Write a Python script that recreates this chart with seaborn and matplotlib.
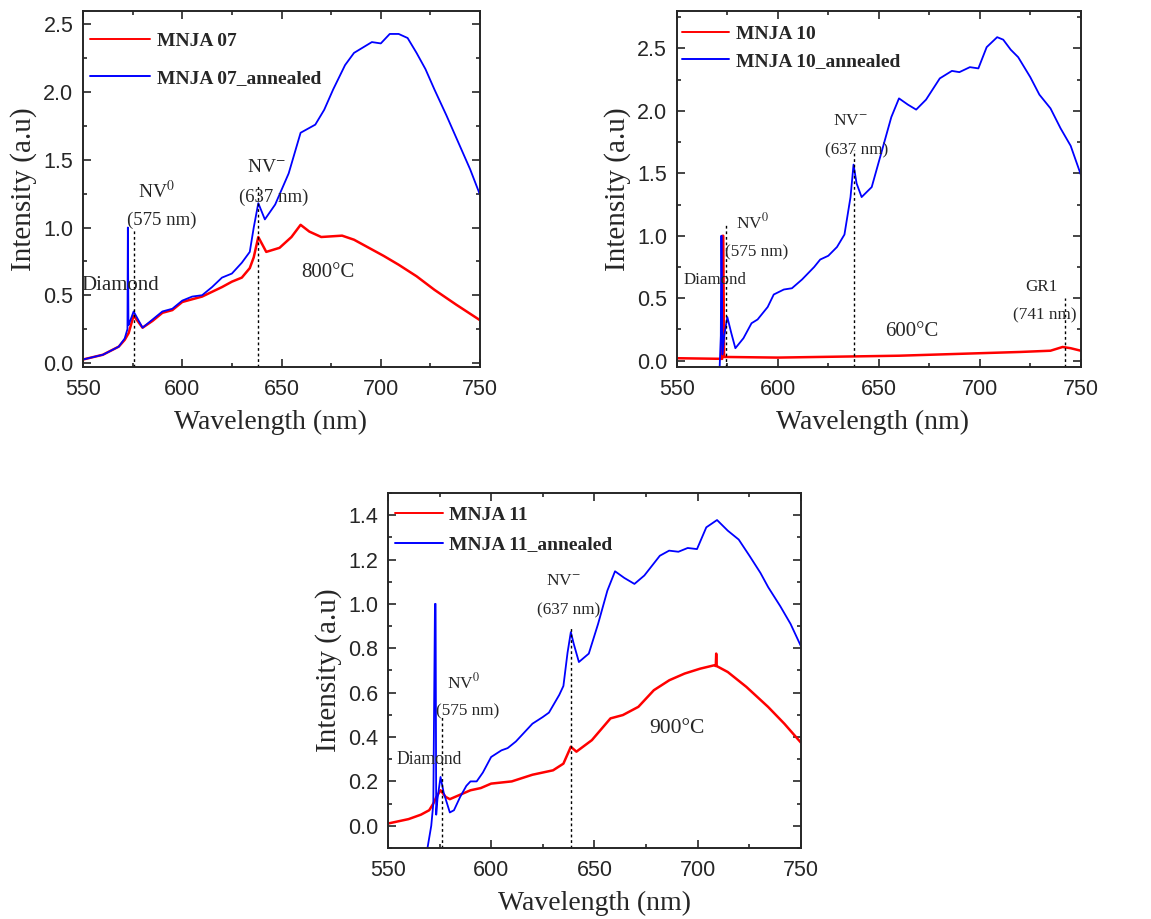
import numpy as np
import pandas as pd
import matplotlib
matplotlib.use("Agg")
import matplotlib.pyplot as plt
from matplotlib.ticker import MultipleLocator
import seaborn as sns

# ==========================================
# Data (wavelength nm, intensity a.u.)
# ==========================================
wl_07 = [550, 560, 568, 571, 573, 575.5, 580, 585, 590, 595, 600, 610, 620, 625, 630, 634, 636, 638.3,
         642.3, 649, 655, 659.6, 664, 670, 680.5, 686.5, 694, 701.5, 709, 718, 727, 738, 750]
int_07 = [0.025, 0.06, 0.12, 0.17, 0.22, 0.35, 0.26, 0.31, 0.37, 0.39, 0.45, 0.49, 0.56, 0.60, 0.63, 0.70, 0.78, 0.93,
          0.82, 0.85, 0.93, 1.02, 0.97, 0.93, 0.94, 0.91, 0.85, 0.79, 0.725, 0.64, 0.54, 0.43, 0.315]

wl_07a = [550, 560, 568, 571, 572.4, 572.6, 572.9, 573.5, 575.5, 580, 585, 590, 595, 600, 605, 610, 615, 620, 625,
          630, 634, 636, 638.3, 641.6, 646.8, 653.6, 659.6, 667, 671.5, 676, 682, 686.5, 691, 695.5, 700, 704.5,
          709, 713.5, 718, 722.5, 727, 733, 739, 745, 750]
int_07a = [0.025, 0.06, 0.12, 0.18, 0.25, 1.0, 0.28, 0.30, 0.38, 0.26, 0.32, 0.38, 0.40, 0.46, 0.49, 0.50, 0.56, 0.63, 0.66,
           0.74, 0.82, 1.00, 1.18, 1.06, 1.17, 1.40, 1.70, 1.76, 1.87, 2.02, 2.20, 2.29, 2.33, 2.37, 2.36, 2.43,
           2.43, 2.40, 2.29, 2.17, 2.02, 1.83, 1.63, 1.43, 1.24]

wl_10 = [550, 572.5, 572.7, 573.0, 573.4, 574, 600, 620, 640, 660, 680, 700, 720, 735, 741, 745, 750]
int_10 = [0.02, 0.015, 1.0, 1.0, 0.03, 0.03, 0.025, 0.03, 0.035, 0.04, 0.05, 0.06, 0.07, 0.08, 0.11, 0.10, 0.08]

wl_10a = [571.2, 571.8, 572.0, 572.2, 572.6, 573.5, 575, 577, 579, 583, 587, 590, 595, 598, 603, 607, 612, 618, 621,
          625, 629.3, 633, 636, 637.5, 639, 641.5, 646.5, 651.7, 656.2, 660, 664.4, 668.5, 673.4, 680.2, 686.2,
          689.9, 695.1, 699.3, 703.4, 708.6, 711.6, 715.3, 719, 725, 729.5, 735, 740, 745, 750]
int_10a = [-0.06, 0.2, 1.0, 1.0, 0.05, 0.2, 0.35, 0.22, 0.10, 0.18, 0.30, 0.33, 0.43, 0.53, 0.57, 0.58, 0.65, 0.75, 0.81,
           0.84, 0.91, 1.01, 1.31, 1.57, 1.42, 1.31, 1.39, 1.69, 1.95, 2.10, 2.05, 2.01, 2.09, 2.26, 2.32,
           2.31, 2.35, 2.34, 2.51, 2.59, 2.57, 2.49, 2.43, 2.27, 2.13, 2.02, 1.86, 1.72, 1.49]

wl_11 = [550, 560, 566, 570, 572, 573.5, 575.5, 578, 580, 585, 590, 595, 600, 610, 620, 630, 635, 638.6, 641.3,
         648.8, 657.8, 663.8, 671.3, 678.8, 686.3, 693.7, 701.2, 707.9, 708.8, 709, 709.2, 714.6, 723.6, 734.1,
         742, 750]
int_11 = [0.01, 0.03, 0.05, 0.07, 0.10, 0.13, 0.16, 0.13, 0.12, 0.14, 0.16, 0.17, 0.19, 0.20, 0.23, 0.25, 0.28, 0.356, 0.334,
          0.386, 0.484, 0.499, 0.536, 0.611, 0.656, 0.686, 0.708, 0.723, 0.72, 0.776, 0.72, 0.693, 0.626, 0.536,
          0.46, 0.375]

wl_11a = [569, 571, 572, 572.8, 573.1, 573.4, 574, 575.5, 577, 580, 582, 585, 588, 590, 593, 596, 600, 605, 608, 612,
          616, 620, 625, 628, 633, 635, 637, 638.6, 640, 642.5, 647.3, 651.8, 656.3, 660, 664.5, 669.4, 674.2,
          681.7, 686.2, 690.7, 695.2, 699.7, 704.2, 709.4, 714.6, 719.9, 725.1, 730.4, 734.2, 740, 745, 750]
int_11a = [-0.11, 0.0, 0.1, 1.0, 1.0, 0.05, 0.12, 0.22, 0.15, 0.06, 0.07, 0.13, 0.18, 0.20, 0.20, 0.24, 0.31, 0.34, 0.35, 0.38,
           0.42, 0.46, 0.49, 0.51, 0.59, 0.63, 0.78, 0.873, 0.82, 0.738, 0.776, 0.91, 1.06, 1.147, 1.117, 1.09, 1.128,
           1.217, 1.24, 1.235, 1.252, 1.247, 1.345, 1.378, 1.33, 1.29, 1.217, 1.14, 1.075, 0.99, 0.91, 0.81]

# ==========================================
# Style
# ==========================================
sns.set_style("ticks")
plt.rcParams['font.family'] = ['Liberation Sans', 'DejaVu Sans']
plt.rcParams['mathtext.fontset'] = 'stix'
SERIF = ['Liberation Serif', 'DejaVu Serif']
RED = '#ff0000'
BLUE = '#0000ff'

fig = plt.figure(figsize=(11.51, 9.19), dpi=100)

panels = [
    dict(rect=[0.0721, 0.6007, 0.345, 0.3874], red=(wl_07, int_07), blue=(wl_07a, int_07a),
         labels=("MNJA 07", "MNJA 07_annealed"), ylim=(-0.03, 2.6), ymaj=0.5, ymin=0.25,
         spacing=1.0, hlen=3.1, anchor=(0.018, 0.94), xlab=0.471),
    dict(rect=[0.588, 0.6007, 0.351, 0.3874], red=(wl_10, int_10), blue=(wl_10a, int_10a),
         labels=("MNJA 10", "MNJA 10_annealed"), ylim=(-0.05, 2.8), ymaj=0.5, ymin=0.25,
         spacing=0.5, hlen=2.45, anchor=(0.012, 0.96), xlab=0.485),
    dict(rect=[0.337, 0.0773, 0.3588, 0.3863], red=(wl_11, int_11), blue=(wl_11a, int_11a),
         labels=("MNJA 11", "MNJA 11_annealed"), ylim=(-0.1, 1.5), ymaj=0.2, ymin=0.1,
         spacing=0.6, hlen=2.45, anchor=(0.017, 0.962), xlab=0.5),
]

axes = []
for p in panels:
    ax = fig.add_axes(p['rect'])
    df_r = pd.DataFrame({'wl': p['red'][0], 'I': p['red'][1]})
    df_b = pd.DataFrame({'wl': p['blue'][0], 'I': p['blue'][1]})
    sns.lineplot(data=df_r, x='wl', y='I', estimator=None, sort=False, color=RED, lw=1.8,
                 label=p['labels'][0], ax=ax)
    sns.lineplot(data=df_b, x='wl', y='I', estimator=None, sort=False, color=BLUE, lw=1.3,
                 label=p['labels'][1], ax=ax)
    ax.set_xlim(550, 750)
    ax.set_ylim(*p['ylim'])
    ax.xaxis.set_major_locator(MultipleLocator(50))
    ax.xaxis.set_minor_locator(MultipleLocator(25))
    ax.yaxis.set_major_locator(MultipleLocator(p['ymaj']))
    ax.yaxis.set_minor_locator(MultipleLocator(p['ymin']))
    ax.tick_params(which='both', direction='in', top=True, right=True, width=1.2)
    ax.tick_params(which='major', length=6, labelsize=15.5)
    ax.tick_params(axis='x', which='major', pad=9)
    ax.tick_params(axis='y', which='major', pad=7)
    ax.tick_params(which='minor', length=3)
    for s in ax.spines.values():
        s.set_linewidth(1.4)
    ax.set_xlabel("Wavelength (nm)", family=SERIF, fontsize=20, labelpad=7)
    ax.set_ylabel("Intensity (a.u)", family=SERIF, fontsize=21, labelpad=4)
    ax.xaxis.label.set_x(p['xlab'])
    leg = ax.legend(loc='upper left', bbox_to_anchor=p['anchor'], frameon=False,
                    handlelength=p['hlen'], handletextpad=0.33, borderpad=0, borderaxespad=0,
                    labelspacing=p['spacing'], prop={'family': SERIF, 'weight': 'bold', 'size': 14})
    for h in leg.get_lines():
        h.set_linewidth(1.4)
    axes.append(ax)

ax1, ax2, ax3 = axes

# ==========================================
# Peak markers and annotations
# ==========================================
ax1.vlines(575.6, -0.03, 0.99, colors='k', linestyles=(0, (2, 2)), lw=1)
ax1.vlines(638.3, -0.03, 1.32, colors='k', linestyles=(0, (2, 2)), lw=1)
ax1.text(587, 1.27, r"NV$^{0}$", family=SERIF, fontsize=14, ha='center', va='center')
ax1.text(589.7, 1.05, "(575 nm)", family=SERIF, fontsize=13.5, ha='center', va='center')
ax1.text(642.5, 1.44, r"NV$^{-}$", family=SERIF, fontsize=14, ha='center', va='center')
ax1.text(646, 1.22, "(637 nm)", family=SERIF, fontsize=13.5, ha='center', va='center')
ax1.text(568.8, 0.57, "Diamond", family=SERIF, fontsize=15, ha='center', va='center')
ax1.text(673.5, 0.67, "800°C", family=SERIF, fontsize=15, ha='center', va='center')

ax2.vlines(574.4, -0.05, 1.09, colors='k', linestyles=(0, (2, 2)), lw=1)
ax2.vlines(637.5, -0.05, 1.69, colors='k', linestyles=(0, (2, 2)), lw=1)
ax2.vlines(742.2, -0.05, 0.5, colors='k', linestyles=(0, (2, 2)), lw=1)
ax2.text(587.6, 1.11, r"NV$^{0}$", family=SERIF, fontsize=12.5, ha='center', va='center')
ax2.text(589.6, 0.87, "(575 nm)", family=SERIF, fontsize=12.3, ha='center', va='center')
ax2.text(636, 1.92, r"NV$^{-}$", family=SERIF, fontsize=12.5, ha='center', va='center')
ax2.text(638.8, 1.68, "(637 nm)", family=SERIF, fontsize=12.3, ha='center', va='center')
ax2.text(569, 0.65, "Diamond", family=SERIF, fontsize=12.2, ha='center', va='center')
ax2.text(666.3, 0.23, "600°C", family=SERIF, fontsize=15, ha='center', va='center')
ax2.text(730.7, 0.59, "GR1", family=SERIF, fontsize=12.3, ha='center', va='center')
ax2.text(732.3, 0.36, "(741 nm)", family=SERIF, fontsize=12.3, ha='center', va='center')

ax3.vlines(576.2, -0.1, 0.5, colors='k', linestyles=(0, (2, 2)), lw=1)
ax3.vlines(638.6, -0.1, 0.9, colors='k', linestyles=(0, (2, 2)), lw=1)
ax3.text(586.4, 0.648, r"NV$^{0}$", family=SERIF, fontsize=12.5, ha='center', va='center')
ax3.text(588.8, 0.516, "(575 nm)", family=SERIF, fontsize=12.3, ha='center', va='center')
ax3.text(634.9, 1.105, r"NV$^{-}$", family=SERIF, fontsize=12.5, ha='center', va='center')
ax3.text(637.3, 0.97, "(637 nm)", family=SERIF, fontsize=12.3, ha='center', va='center')
ax3.text(570.2, 0.298, "Diamond", family=SERIF, fontsize=12.7, ha='center', va='center')
ax3.text(689.9, 0.438, "900°C", family=SERIF, fontsize=15.5, ha='center', va='center')

fig.savefig("out.png", dpi=100)
plt.close(fig)
